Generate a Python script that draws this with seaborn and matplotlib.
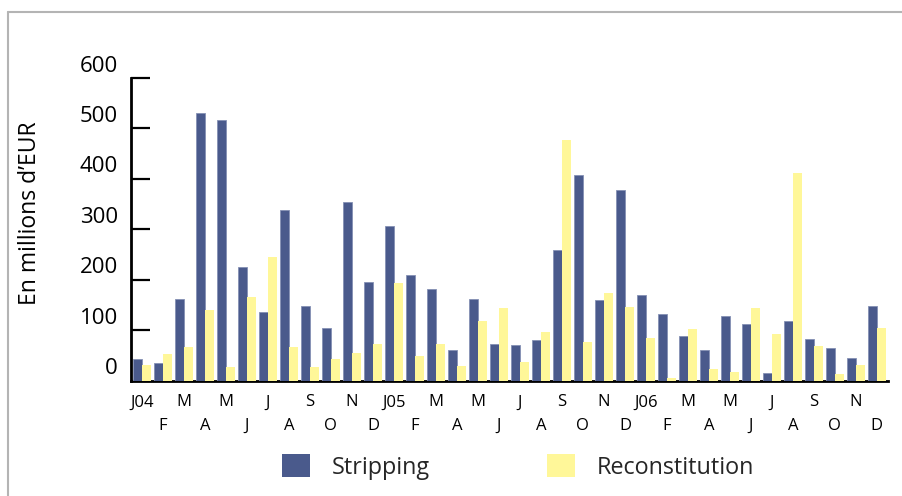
import matplotlib
matplotlib.use("Agg")
import matplotlib.pyplot as plt
import matplotlib.transforms as mtransforms
from matplotlib.lines import Line2D
import numpy as np
import pandas as pd
import seaborn as sns

# Monthly stripping / reconstitution volumes, Jan 2004 - Dec 2006 (EUR millions)
months = [f"{y}-{m:02d}" for y in (2004, 2005, 2006) for m in range(1, 13)]
month_labels = ["J04", "F", "M", "A", "M", "J", "J", "A", "S", "O", "N", "D",
                "J05", "F", "M", "A", "M", "J", "J", "A", "S", "O", "N", "D",
                "J06", "F", "M", "A", "M", "J", "J", "A", "S", "O", "N", "D"]
stripping = [42, 35, 162, 531, 516, 225, 136, 339, 147, 105, 354, 195,
             307, 209, 182, 61, 161, 73, 71, 80, 259, 408, 159, 377,
             169, 132, 88, 61, 128, 112, 14, 119, 82, 64, 45, 147]
reconstitution = [31, 53, 67, 139, 27, 166, 245, 67, 27, 43, 55, 73,
                  194, 49, 73, 29, 118, 144, 36, 97, 478, 77, 173, 146,
                  84, 4, 103, 23, 17, 144, 93, 411, 69, 13, 31, 105]
series_names = ["Stripping", "Reconstitution"]
y_ticks = [0, 100, 200, 300, 400, 500, 600]

BLUE = "#4a5a8c"
YELLOW = "#fff799"

df = pd.DataFrame({
    "month": months * 2,
    "value": stripping + reconstitution,
    "series": [series_names[0]] * len(months) + [series_names[1]] * len(months),
})

sns.set_theme(style="white")
plt.rcParams["font.family"] = ["Open Sans", "DejaVu Sans"]

fig = plt.figure(figsize=(9.02, 4.96), dpi=100)
W, H = 902, 496
ax = fig.add_axes([131 / W, 1 - 380.5 / H, (888 - 131) / W, (380.5 - 78) / H])

sns.barplot(data=df, x="month", y="value", hue="series", order=months,
            hue_order=series_names, palette=[BLUE, YELLOW], width=0.86,
            saturation=1, linewidth=0, ax=ax, zorder=3)

for bar in ax.containers[0]:
    bar.set_edgecolor("#8490b4")
    bar.set_linewidth(0.6)

ax.set_xlim(-0.52, 35.53)
ax.set_ylim(0, 600)

# Spines
for side in ("top", "right"):
    ax.spines[side].set_visible(False)
for side in ("left", "bottom"):
    ax.spines[side].set_color("black")
    ax.spines[side].set_linewidth(2)

# Y ticks point into the plot; labels drawn raised above each tick
ax.set_yticks(y_ticks)
ax.tick_params(axis="y", direction="in", length=14, width=1.6, color="black",
               labelleft=False, left=True)
ylab_tr = mtransforms.blended_transform_factory(ax.transAxes, ax.transData) + \
    mtransforms.ScaledTranslation(-13 / 100, 12 / 100, fig.dpi_scale_trans)
for v in y_ticks:
    ax.text(0, v, str(v), transform=ylab_tr, ha="right", va="center",
            fontsize=16, color="black")

# Two-row month labels
pos = np.arange(len(months))
ax.set_xticks(pos[::2], month_labels[::2])
ax.set_xticks(pos[1::2], month_labels[1::2], minor=True)
ax.tick_params(axis="x", which="major", length=0, pad=10, labelsize=12,
               labelcolor="black")
ax.tick_params(axis="x", which="minor", length=0, pad=27, labelsize=12,
               labelcolor="black")

ax.set_xlabel("")
ax.set_ylabel("")
fig.text(30 / W, 1 - 213 / H, "En millions d\u2019EUR", rotation=90,
         ha="center", va="center", fontsize=16.5, color="black")

# Legend below the plot
handles, labels = ax.get_legend_handles_labels()
ax.legend_.remove()
fig.legend(handles, labels, loc="center", bbox_to_anchor=(518 / W, 1 - 467 / H),
           ncol=2, frameon=False, fontsize=16.8, handlelength=1.2,
           handleheight=1.12, handletextpad=0.94, columnspacing=5.0)

# Thin grey frame on the top and left edges
fig.add_artist(Line2D([8 / W, 8 / W], [0, 1 - 12 / H], transform=fig.transFigure,
                      color="#b4b4b4", lw=1.5))
fig.add_artist(Line2D([8 / W, 1], [1 - 12 / H, 1 - 12 / H], transform=fig.transFigure,
                      color="#b4b4b4", lw=1.5))

fig.savefig("out.png", dpi=100, facecolor="white")
